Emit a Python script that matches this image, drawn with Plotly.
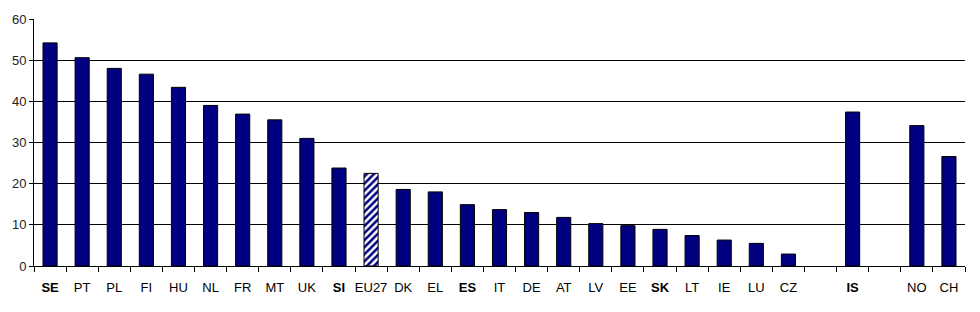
import plotly.graph_objects as go

categories = ["SE", "PT", "PL", "FI", "HU", "NL", "FR", "MT", "UK", "SI", "EU27",
              "DK", "EL", "ES", "IT", "DE", "AT", "LV", "EE", "SK", "LT", "IE",
              "LU", "CZ", "", "IS", "", "NO", "CH"]
values = [54.2, 50.6, 48.0, 46.6, 43.4, 39.0, 36.9, 35.5, 31.0, 23.8, 22.5,
          18.6, 18.0, 14.9, 13.7, 13.0, 11.8, 10.3, 9.8, 8.9, 7.4, 6.3,
          5.5, 2.9, None, 37.4, None, 34.1, 26.6]
highlight = "EU27"
y_ticks = [0, 10, 20, 30, 40, 50, 60]

# unique keys for the category axis (blank slots need distinct names)
keys = [c if c else " " * (i + 1) for i, c in enumerate(categories)]
ticktext = [("<b>%s</b>" % c) if "S" in c else c for c in categories]

navy = "#000080"
main_vals = [None if c == highlight else v for c, v in zip(categories, values)]
hl_vals = [v if c == highlight else None for c, v in zip(categories, values)]

fig = go.Figure()
fig.add_trace(go.Bar(
    x=keys, y=main_vals, width=0.44,
    marker=dict(color=navy, line=dict(color="#000000", width=1)),
))
fig.add_trace(go.Bar(
    x=keys, y=hl_vals, width=0.44,
    marker=dict(color="white", line=dict(color="#000000", width=1),
                pattern=dict(shape="/", fillmode="overlay", fgcolor=navy,
                             fgopacity=1, size=5, solidity=0.5)),
))

fig.update_layout(
    width=980, height=312,
    margin=dict(l=34, r=15, t=16, b=46),
    paper_bgcolor="white", plot_bgcolor="white",
    showlegend=False, barmode="overlay",
    font=dict(family="Liberation Sans, Arial, sans-serif", size=13, color="#000000"),
)
fig.update_xaxes(
    type="category", categoryorder="array", categoryarray=keys,
    tickmode="array", tickvals=keys, ticktext=ticktext, tickangle=0,
    tickson="boundaries", ticks="outside", ticklen=5, tickcolor="#000000",
    showline=True, linecolor="#000000", linewidth=1,
    showgrid=False, tickfont=dict(size=13, color="#000000"),
    ticklabelstandoff=9,
    range=[-0.5, len(keys) - 0.5],
)
fig.update_yaxes(
    range=[0, 60], tickmode="array", tickvals=y_ticks,
    ticks="outside", ticklen=4, tickcolor="#000000",
    showline=True, linecolor="#000000", linewidth=1,
    showgrid=True, gridcolor="#000000", gridwidth=1,
    zeroline=False, tickfont=dict(size=13, color="#222222"),
)

fig.write_html("out.html")
